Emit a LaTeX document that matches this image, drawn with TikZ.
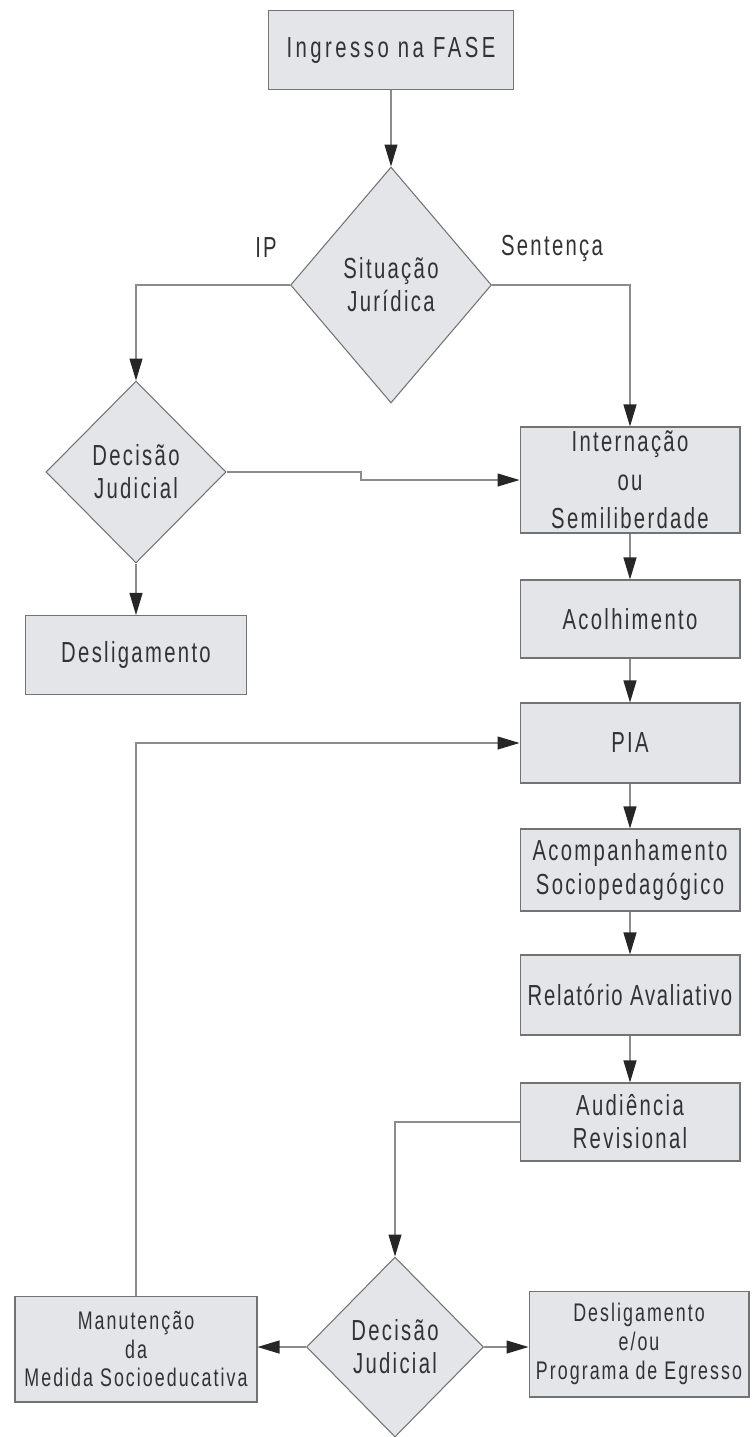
\documentclass[tikz,border=0pt]{standalone}
\usepackage{fontspec}
\setmainfont{Liberation Sans}[FakeStretch=0.7,LetterSpace=8]
\usetikzlibrary{arrows.meta,shapes.geometric}
\definecolor{boxgray}{RGB}{227,229,233}
\definecolor{linegray}{RGB}{140,140,140}
\definecolor{txtgray}{RGB}{50,50,50}
\begin{document}
\begin{tikzpicture}[x=0.02cm,y=-0.02cm,line width=0.6pt,linegray,
	-{Triangle[length=0.44cm,width=0.26cm,color=black!85]},
	box/.style={draw=black!55,fill=boxgray,text=txtgray,align=center,inner sep=0pt,
		minimum width=4.4cm,font=\fontsize{16.5}{18.8}\selectfont},
	small/.style={font=\fontsize{14.5}{16.3}\selectfont},
	cond/.style={box,shape=diamond},
	lbl/.style={text=txtgray,font=\fontsize{16.5}{18.8}\selectfont}]
	\useasboundingbox (0,0) rectangle (752,1437);
	\node[box,minimum width=4.9cm,minimum height=1.58cm] (In) at (391,50) {\addfontfeature{LetterSpace=12}Ingresso na FASE};
	\node[cond,minimum width=4.02cm,minimum height=4.72cm] (SJ) at (391,285) {Situação\\Jurídica};
	\node[lbl] (IP) at (266,248) {IP};
	\node[lbl] (Sen) at (552,248) {Sentença};
	\node[cond,minimum width=3.6cm,minimum height=3.64cm] (DJ1) at (136,472) {Decisão\\Judicial};
	\node[box,minimum width=4.42cm,minimum height=1.58cm] (Des1) at (136,655) {Desligamento};
	\node[box,minimum height=2.12cm] (Int) at (630,480) {Internação\\[3pt]ou\\[3pt]Semiliberdade};
	\node[box,minimum height=1.56cm] (Aco) at (630,619) {Acolhimento};
	\node[box,minimum height=1.6cm] (PIA) at (630,743) {PIA};
	\node[box,minimum height=1.64cm] (Acp) at (630,870) {Acompanhamento\\Sociopedagógico};
	\node[box,minimum height=1.6cm] (Rel) at (630,995) {\addfontfeature{LetterSpace=6}Relatório Avaliativo};
	\node[box,minimum height=1.56cm] (Aud) at (630,1122) {Audiência\\Revisional};
	\node[cond,minimum width=3.54cm,minimum height=3.6cm] (DJ2) at (395,1347) {Decisão\\Judicial};
	\node[box,small,minimum width=4.84cm,minimum height=2.12cm] (Man) at (136,1349) {Manutenção\\da\\Medida Socioeducativa};
	\node[box,small,minimum height=2.12cm] (Des2) at (639,1344) {Desligamento\\e/ou\\Programa de Egresso};
	\coordinate (J) at (361,472);
	\draw (In) -- (SJ);
	\draw (SJ.west) -| (DJ1.north);
	\draw (SJ.east) -| (Int.north);
	\draw (DJ1.east) -- (J) |- (Int.west);
	\draw (DJ1) -- (Des1);
	\draw (Int) -- (Aco);
	\draw (Aco) -- (PIA);
	\draw (PIA) -- (Acp);
	\draw (Acp) -- (Rel);
	\draw (Rel) -- (Aud);
	\draw (Aud.west) -| (DJ2.north);
	\draw (DJ2.west) -- (Man.east |- DJ2.west);
	\draw (DJ2.east) -- (Des2.west |- DJ2.east);
	\draw (Man.north) |- (PIA.west);
\end{tikzpicture}
\end{document}
